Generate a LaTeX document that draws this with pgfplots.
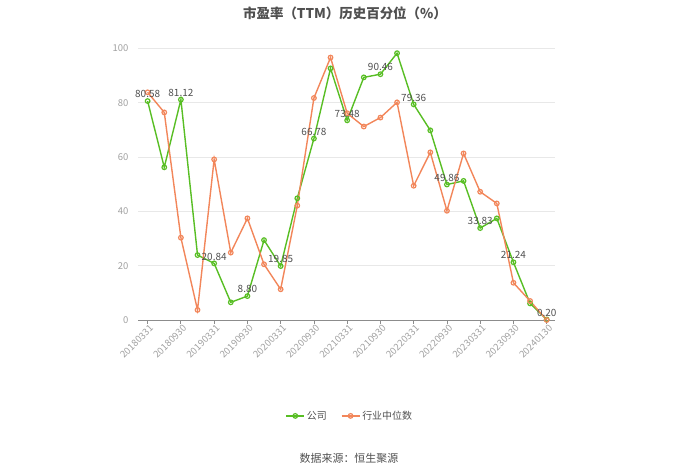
\documentclass[border=0pt]{standalone}
\usepackage{fontspec}
\setmainfont{Noto Sans CJK SC}
\usepackage{pgfplots}
\pgfplotsset{compat=1.18}
\definecolor{cgreen}{RGB}{88,190,36}
\definecolor{corange}{RGB}{242,134,90}
\definecolor{cgrid}{RGB}{232,232,232}
\definecolor{ctick}{RGB}{160,160,160}
\definecolor{caxis}{RGB}{140,140,140}
\definecolor{clabel}{RGB}{80,80,80}
\begin{document}
\begin{tikzpicture}[x=1bp,y=1bp]
\begin{axis}[
  scale only axis,
  width=417bp, height=271.7bp,
  at={(138bp,153bp)}, anchor=south west,
  xmin=-0.58, xmax=24.5,
  ymin=0, ymax=100,
  ytick={0,20,40,60,80,100},
  xtick={0,2,...,24},
  xticklabels={20180331,20180930,20190331,20190930,20200331,20200930,20210331,20210930,20220331,20220930,20230331,20230930,20240130},
  x tick label style={rotate=45, anchor=north east, font=\fontsize{9.5}{10}\selectfont, text=ctick, inner sep=1bp, xshift=2bp},
  y tick label style={font=\fontsize{9.5}{10}\selectfont, text=ctick, xshift=-2bp},
  /pgf/number format/assume math mode=true,
  axis x line*=bottom,
  axis y line*=left,
  y axis line style={draw=none},
  x axis line style={caxis, line width=0.8bp, -},
  xtick style={caxis, line width=0.8bp},
  ytick style={draw=none},
  major tick length=4bp,
  tick align=outside,
  ymajorgrids,
  grid style={cgrid, line width=0.8bp},
  legend style={at={(0.508,-0.353)}, anchor=center, draw=none, fill=none,
    legend columns=2, font=\fontsize{10}{11}\selectfont, text=clabel,
    /tikz/every even column/.append style={column sep=12bp}},
  legend image code/.code={\draw[mark repeat=2,mark phase=2] plot coordinates {(0bp,0bp)(9bp,0bp)(18bp,0bp)};},
  legend cell align=left,
  clip=false,
]
\addplot[color=cgreen, line width=1.4bp, mark=o, mark size=2.3bp, mark options={fill=white, line width=1.2bp}]
coordinates {
(0,80.58)(1,56.2)(2,81.12)(3,23.9)(4,20.84)(5,6.5)(6,8.80)(7,29.4)(8,19.85)(9,44.8)
(10,66.78)(11,92.6)(12,73.48)(13,89.3)(14,90.46)(15,98.2)(16,79.36)(17,69.8)(18,49.86)
(19,51.2)(20,33.83)(21,37.4)(22,21.24)(23,6.1)(24,0.20)};
\addlegendentry{公司}
\addplot[color=corange, line width=1.4bp, mark=o, mark size=2.3bp, mark options={fill=white, line width=1.2bp}]
coordinates {
(0,83.8)(1,76.4)(2,30.3)(3,3.7)(4,59.1)(5,24.8)(6,37.4)(7,20.5)(8,11.3)(9,42.1)
(10,81.7)(11,96.6)(12,76.1)(13,71.2)(14,74.5)(15,80.1)(16,49.4)(17,61.7)(18,40.2)
(19,61.3)(20,47.2)(21,42.9)(22,13.7)(23,7.0)(24,0.0)};
\addlegendentry{行业中位数}
\addplot[draw=none, mark=none, forget plot, nodes near coords, point meta=explicit symbolic,
  every node near coord/.append style={font=\fontsize{10}{11}\selectfont, text=clabel, anchor=south, yshift=2bp, inner sep=1bp}]
coordinates {
(0,80.58)[80.58] (2,81.12)[81.12] (4,20.84)[20.84] (6,8.80)[8.80] (8,19.85)[19.85]
(10,66.78)[66.78] (12,73.48)[73.48] (14,90.46)[90.46] (16,79.36)[79.36] (18,49.86)[49.86]
(20,33.83)[33.83] (22,21.24)[21.24] (24,0.20)[0.20]};
\end{axis}
\node[font=\bfseries\fontsize{13.5}{15}\selectfont, text=clabel] at (345bp,460bp) {市盈率（TTM）历史百分位（\%）};
\node[font=\fontsize{11}{12}\selectfont, text=clabel] at (349bp,15bp) {数据来源：恒生聚源};
\pgfresetboundingbox
\useasboundingbox (0,0) rectangle (700bp,473bp);
\end{tikzpicture}
\end{document}
